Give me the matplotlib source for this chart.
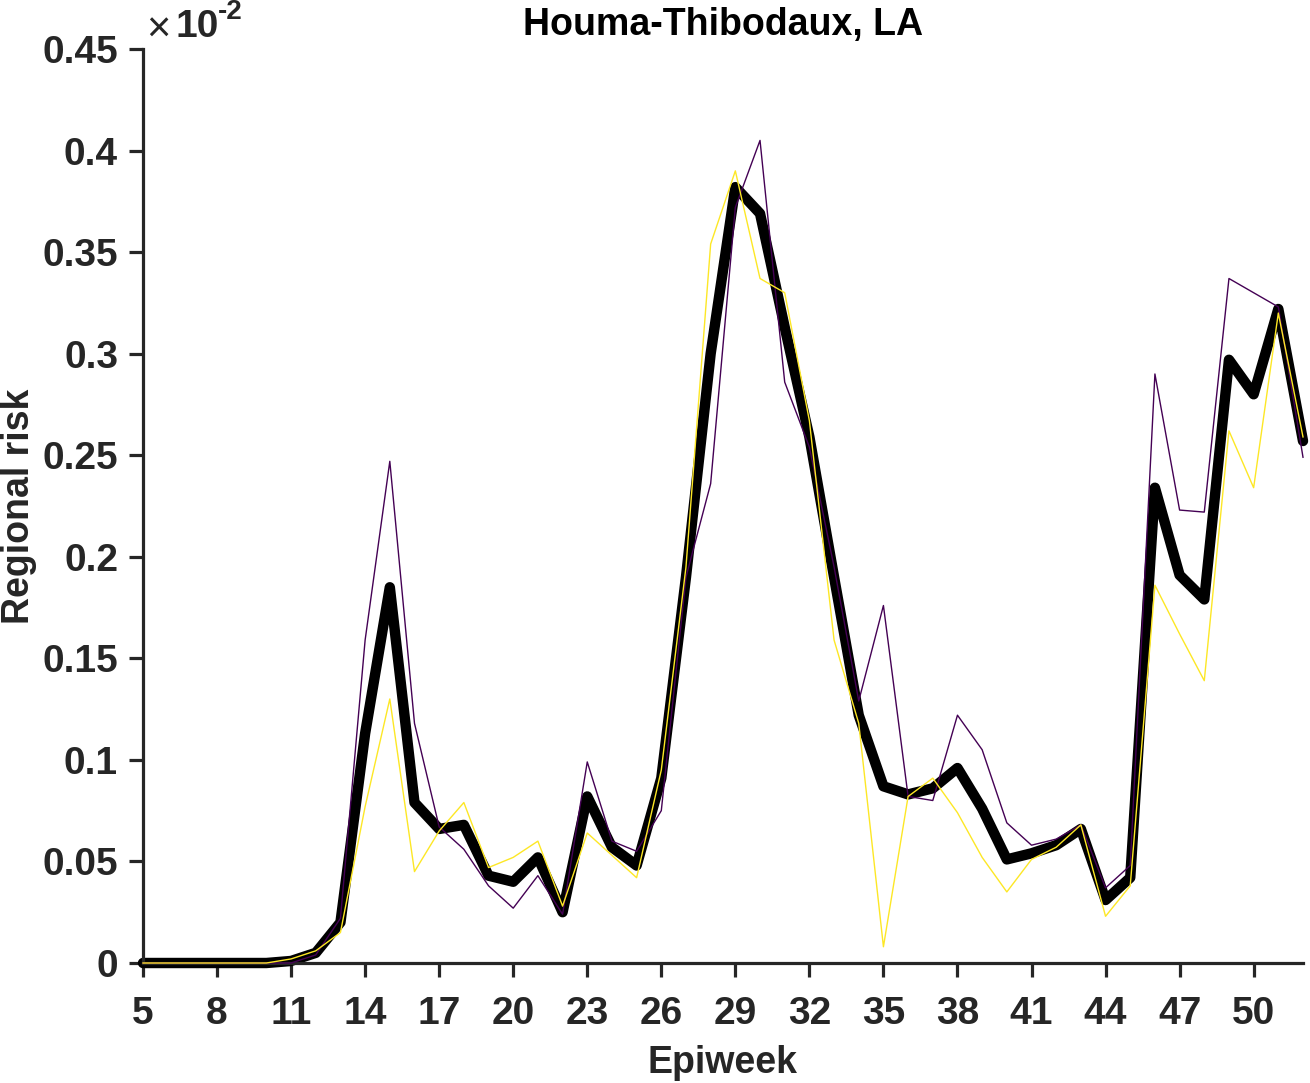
import numpy as np
import matplotlib
matplotlib.use("Agg")
import matplotlib.pyplot as plt

plt.rcParams["font.family"] = ["Liberation Sans", "DejaVu Sans"]

# epiweeks 5..52, values in units of 1e-2
weeks = list(range(5, 53))

mean_risk = [0, 0, 0, 0, 0, 0, 0.001, 0.005, 0.02, 0.113, 0.185, 0.079,
             0.066, 0.068, 0.043, 0.040, 0.052, 0.025, 0.082, 0.057, 0.048,
             0.091, 0.19, 0.30, 0.382, 0.369, 0.313, 0.259, 0.19, 0.122,
             0.087, 0.083, 0.086, 0.096, 0.076, 0.051, 0.054, 0.058, 0.066,
             0.031, 0.042, 0.234, 0.191, 0.179, 0.297, 0.28, 0.322, 0.257]

risk_purple = [0, 0, 0, 0, 0, 0, 0.0, 0.004, 0.022, 0.159, 0.247, 0.118,
               0.067, 0.056, 0.038, 0.027, 0.043, 0.024, 0.099, 0.06, 0.055,
               0.075, 0.19, 0.236, 0.372, 0.405, 0.286, 0.254, 0.195, 0.129,
               0.176, 0.082, 0.080, 0.122, 0.105, 0.069, 0.058, 0.061, 0.068,
               0.037, 0.048, 0.29, 0.223, 0.222, 0.337, 0.33, 0.323, 0.249]

risk_yellow = [0, 0, 0, 0, 0, 0, 0.002, 0.006, 0.015, 0.077, 0.13, 0.045,
               0.065, 0.079, 0.047, 0.052, 0.06, 0.028, 0.064, 0.053, 0.042,
               0.095, 0.195, 0.354, 0.39, 0.337, 0.33, 0.267, 0.159, 0.118,
               0.008, 0.082, 0.091, 0.074, 0.052, 0.035, 0.051, 0.057, 0.068,
               0.023, 0.038, 0.186, 0.162, 0.139, 0.262, 0.234, 0.32, 0.259]

xticks = list(range(5, 51, 3))
yticks = [0, 0.05, 0.1, 0.15, 0.2, 0.25, 0.3, 0.35, 0.4, 0.45]
ytick_labels = ["0", "0.05", "0.1", "0.15", "0.2", "0.25", "0.3", "0.35", "0.4", "0.45"]

GREY = "#262626"

fig = plt.figure(figsize=(13.1, 10.83), dpi=100)
ax = fig.add_axes([143 / 1310, 1 - 963 / 1083, (1303 - 143) / 1310, (963 - 49) / 1083])

ax.plot(weeks, mean_risk, color="black", lw=7.5, solid_joinstyle="round",
        solid_capstyle="round", clip_on=False, zorder=2)
ax.plot(weeks, risk_purple, color="#440154", lw=1.0, zorder=3, clip_on=False)
ax.plot(weeks, risk_yellow, color="#FDE725", lw=1.0, zorder=4, clip_on=False)

ax.set_xlim(5, 52)
ax.set_ylim(0, 0.45)
ax.set_xticks(xticks)
ax.set_yticks(yticks)
ax.set_yticklabels(ytick_labels)

for s in ["top", "right"]:
    ax.spines[s].set_visible(False)
for s in ["left", "bottom"]:
    ax.spines[s].set_color(GREY)
    ax.spines[s].set_linewidth(2.3)

ax.tick_params(direction="out", length=10, width=2.3, color=GREY,
               labelcolor=GREY, labelsize=28)
ax.tick_params(axis="x", pad=14)
ax.tick_params(axis="y", pad=8)
for lab in ax.get_xticklabels() + ax.get_yticklabels():
    lab.set_fontweight("bold")

ax.set_xlabel("Epiweek", fontsize=27, fontweight="bold", color=GREY, labelpad=9)
ax.set_ylabel("Regional risk", fontsize=27, fontweight="bold", color=GREY, labelpad=4)
ax.set_title("Houma-Thibodaux, LA", fontsize=27, fontweight="bold", color="black", pad=10)

# exponent marker like MATLAB
fig.text(146 / 1310, 1 - 31 / 1083, "\u00d7", fontsize=30, color=GREY, va="center", ha="left")
fig.text(175 / 1310, 1 - 27 / 1083, "10", fontsize=28, fontweight="bold", color=GREY,
         va="center", ha="left")
fig.text(218 / 1310, 1 - 12 / 1083, "-2", fontsize=20, fontweight="bold", color=GREY,
         va="center", ha="left")

fig.savefig("out.png", dpi=100)
